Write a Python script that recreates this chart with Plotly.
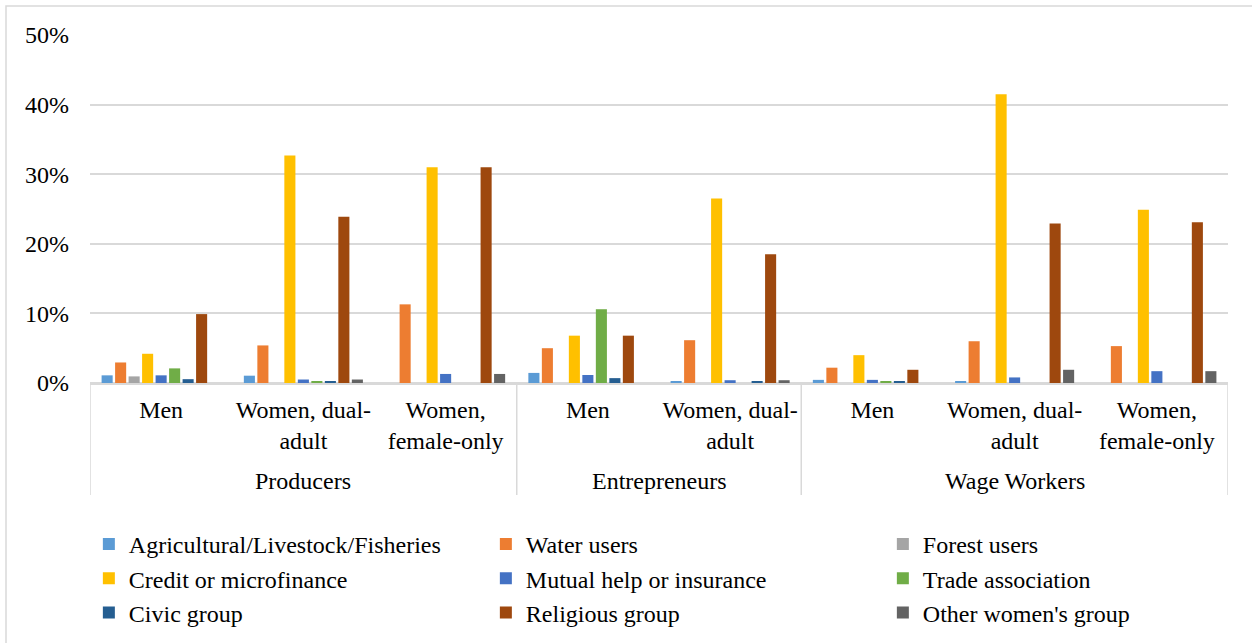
import plotly.graph_objects as go

# Worker groups and household types within each group
groups = ["Producers", "Entrepreneurs", "Wage Workers"]
group_sizes = [3, 2, 3]
subgroups = ["Men", "Women, dual-<br>adult", "Women,<br>female-only",
             "Men", "Women, dual-<br>adult",
             "Men", "Women, dual-<br>adult", "Women,<br>female-only"]

# Share of respondents in each type of group (%)
agricultural = [1.1, 1.05, 0.0, 1.45, 0.15, 0.45, 0.15, 0.0]
water_users = [2.95, 5.4, 11.3, 5.0, 6.15, 2.2, 6.0, 5.3]
forest_users = [0.95, 0.0, 0.0, 0.0, 0.0, 0.0, 0.0, 0.0]
credit = [4.2, 32.7, 31.0, 6.8, 26.5, 4.0, 41.5, 24.9]
mutual_help = [1.1, 0.5, 1.3, 1.15, 0.4, 0.45, 0.8, 1.7]
trade_assoc = [2.1, 0.25, 0.0, 10.6, 0.0, 0.15, 0.0, 0.0]
civic = [0.55, 0.25, 0.0, 0.7, 0.2, 0.15, 0.0, 0.0]
religious = [9.9, 23.9, 31.0, 6.8, 18.5, 1.9, 22.9, 23.1]
other_women = [0.0, 0.5, 1.3, 0.0, 0.4, 0.0, 1.9, 1.7]

series = [
    ("Agricultural/Livestock/Fisheries", agricultural, "#5B9BD5"),
    ("Water users", water_users, "#ED7D31"),
    ("Forest users", forest_users, "#A5A5A5"),
    ("Credit or microfinance", credit, "#FFC000"),
    ("Mutual help or insurance", mutual_help, "#4472C4"),
    ("Trade association", trade_assoc, "#70AD47"),
    ("Civic group", civic, "#255E91"),
    ("Religious group", religious, "#9E480E"),
    ("Other women's group", other_women, "#636363"),
]

FONT = "Liberation Serif, Times New Roman, serif"
GRID = "#D9D9D9"
FS = 24

positions = list(range(len(subgroups)))

fig = go.Figure()
for name, vals, color in series:
    fig.add_trace(go.Bar(
        x=positions, y=vals, name=name,
        marker=dict(color=color, line=dict(width=0)),
    ))

W, H = 1252, 643
ML, MR, MT, MB = 90, 24, 35, 260
pw, ph = W - ML - MR, H - MT - MB

def px_x(p):
    return (p - ML) / pw

def px_y(p):
    return (H - MB - p) / ph

# outer chart frame
fig.add_shape(type="rect", xref="paper", yref="paper",
              x0=px_x(6), x1=px_x(1262), y0=px_y(660), y1=px_y(6),
              line=dict(color=GRID, width=1.5), fillcolor="rgba(0,0,0,0)",
              layer="below")

# group dividers below the axis and group labels
start = 0
bounds = [-0.5]
for g, n in zip(groups, group_sizes):
    center = start + (n - 1) / 2
    fig.add_annotation(x=center, y=px_y(481), xref="x", yref="paper",
                       text=g, showarrow=False, yanchor="middle",
                       font=dict(family=FONT, size=FS, color="black"))
    start += n
    bounds.append(start - 0.5)
for b in bounds:
    fig.add_shape(type="line", xref="x", yref="paper",
                  x0=b, x1=b, y0=0, y1=px_y(495),
                  line=dict(color=GRID, width=1.5))

fig.update_layout(
    width=W, height=H,
    margin=dict(l=ML, r=MR, t=MT, b=MB, autoexpand=False),
    paper_bgcolor="white", plot_bgcolor="white",
    font=dict(family=FONT, size=FS, color="black"),
    barmode="group", bargap=0.146, bargroupgap=0.18,
    showlegend=True,
    legend=dict(orientation="h", x=-0.001, xanchor="left",
                y=px_y(522), yanchor="top",
                entrywidth=352, entrywidthmode="pixels",
                font=dict(family=FONT, size=FS, color="black"),
                bgcolor="rgba(0,0,0,0)", traceorder="normal"),
)

fig.update_yaxes(
    range=[0, 50], dtick=10, ticksuffix="%",
    showgrid=True, gridcolor=GRID, gridwidth=1.5,
    zeroline=True, zerolinecolor=GRID, zerolinewidth=1.5,
    showline=False, ticks="", ticklabelstandoff=20,
    tickfont=dict(family=FONT, size=FS, color="black"),
)

fig.update_xaxes(
    range=[-0.5, len(subgroups) - 0.5],
    tickmode="array", tickvals=positions, ticktext=subgroups,
    showline=True, linecolor=GRID, linewidth=1.5,
    ticks="", showgrid=False, zeroline=False, ticklabelstandoff=4,
    tickfont=dict(family=FONT, size=FS, color="black"),
)

fig.write_html("out.html")
